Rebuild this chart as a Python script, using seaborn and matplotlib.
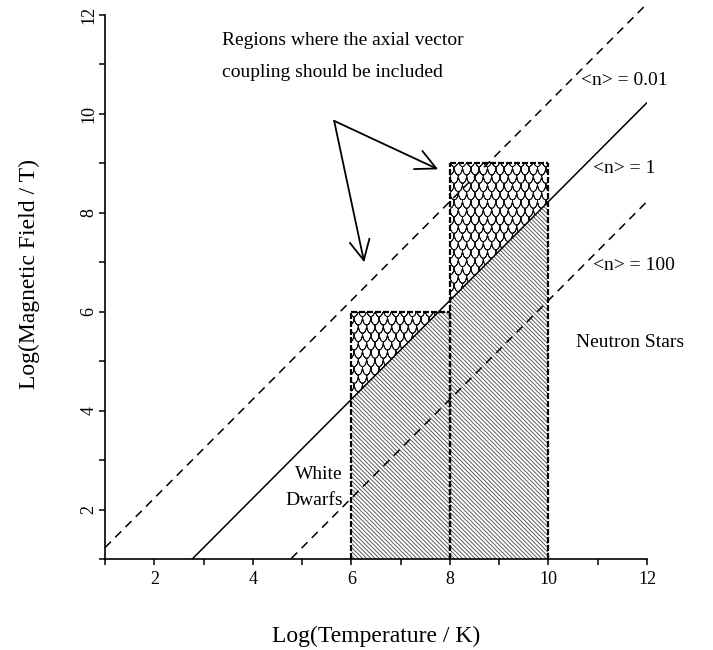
import numpy as np
import pandas as pd
import seaborn as sns
import matplotlib
matplotlib.use("Agg")
import matplotlib.pyplot as plt
import matplotlib.hatch as mhatch
from matplotlib.path import Path

# <n> lines: log B = log T + offset
n_labels = ["<n> = 0.01", "<n> = 1", "<n> = 100"]
n_offsets = [0.23, -1.77, -3.77]
line_x = [1, 12]

# stellar boxes (log T range, top in log B)
box_names = ["White Dwarfs", "Neutron Stars"]
box_t_lo = [6, 8]
box_t_hi = [8, 10]
box_b_top = [6, 9]


# fish-scale hatch, takes the place of the 'O' pattern
class ScaleHatch(mhatch.Shapes):
    size = 1.0
    filled = True

    def __init__(self, hatch, density):
        self.num_rows = hatch.count('O') * density
        arc = Path.arc(180, 360)
        v = arc.vertices * [0.5, 1.0]
        self.shape_vertices = np.concatenate([v, v[::-1]])
        self.shape_codes = np.concatenate([arc.codes, arc.codes])
        super().__init__(hatch, density)


mhatch._hatch_types = [h for h in mhatch._hatch_types if h is not mhatch.LargeCircles]
mhatch._hatch_types.append(ScaleHatch)

sns.set_theme(style="ticks")
plt.rcParams['font.family'] = ['Liberation Serif', 'DejaVu Serif']
plt.rcParams['text.color'] = 'black'
plt.rcParams['hatch.linewidth'] = 0.6

fig = plt.figure(figsize=(7.13, 6.5), dpi=100)
ax = fig.add_axes([0.1473, 0.14, 0.7602, 0.8597])

rows = []
for lab, off in zip(n_labels, n_offsets):
    for x in line_x:
        rows.append({'T': x, 'B': x + off, 'line': lab})
lines_df = pd.DataFrame(rows)

sns.lineplot(data=lines_df, x='T', y='B', style='line', color='black',
             dashes={n_labels[0]: (5.5, 4), n_labels[1]: "", n_labels[2]: (5.5, 4)},
             linewidth=1.1, legend=False, ax=ax)

solid_off = n_offsets[1]
box_dash = (0, (2.7, 0.9))
for lo, hi, top in zip(box_t_lo, box_t_hi, box_b_top):
    xs = np.linspace(lo, hi, 300)
    cut = np.minimum(xs + solid_off, top)
    # below the <n> = 1 line
    ax.fill(np.r_[xs, xs[::-1]], np.r_[np.ones_like(xs), cut[::-1]],
            facecolor='none', edgecolor='#444444', linewidth=0, hatch='\\' * 8)
    # above it
    ax.fill(np.r_[xs, xs[::-1]], np.r_[cut, np.full_like(xs, top)[::-1]],
            facecolor='none', edgecolor='#111111', linewidth=0, hatch='OO')
    for ex in (lo, hi):
        ax.plot([ex, ex], [1, top], color='black', linewidth=1.6, linestyle=box_dash)
    ax.plot([lo, hi], [top, top], color='black', linewidth=1.6, linestyle=box_dash)

ax.set_xlim(1, 12)
ax.set_ylim(1, 12.3)
sns.despine(ax=ax)
ax.spines['left'].set_bounds(1, 12)
for side in ('left', 'bottom'):
    ax.spines[side].set_linewidth(1.2)
    ax.spines[side].set_color('black')

ticks = list(range(1, 13))
tick_labels = [str(t) if t % 2 == 0 else '' for t in ticks]
ax.set_xticks(ticks)
ax.set_xticklabels(tick_labels)
ax.set_yticks(ticks)
ax.set_yticklabels(tick_labels, rotation=90, va='center')
ax.tick_params(axis='both', direction='out', length=4.5, width=1.1, color='black',
               labelsize=13, labelcolor='black')
ax.tick_params(axis='x', pad=4.5)
ax.tick_params(axis='y', pad=1)

ax.set_xlabel("Log(Temperature / K)", fontsize=17, color='black')
ax.set_ylabel("Log(Magnetic Field / T)", fontsize=17, color='black')
ax.xaxis.label.set_va('center')
ax.yaxis.label.set_va('center')
ax.xaxis.set_label_coords(0.5, -0.138)
ax.yaxis.set_label_coords(-0.14, 0.51)

ax.text(3.38, 11.48, "Regions where the axial vector", fontsize=14, ha='left', va='center')
ax.text(3.38, 10.83, "coupling should be included", fontsize=14, ha='left', va='center')

label_pos = [(10.65, 10.67), (10.9, 8.9), (10.9, 6.93)]
for lab, (tx, ty) in zip(n_labels, label_pos):
    ax.text(tx, ty, lab, fontsize=14, ha='left', va='center')

ax.text(10.55, 5.37, "Neutron Stars", fontsize=14, ha='left', va='center')
ax.text(5.83, 2.44, "White\nDwarfs", fontsize=14, ha='right', va='center',
        linespacing=1.7)

arrow_start = (5.65, 9.86)
arrow_heads = [(7.76, 8.88), (6.26, 7.0)]
for hx, hy in arrow_heads:
    ax.annotate("", xy=(hx, hy), xytext=arrow_start,
                arrowprops=dict(arrowstyle='->,head_length=1.2,head_width=0.6',
                                color='black', lw=1.3, shrinkA=0, shrinkB=0))

plt.savefig("out.png", dpi=100)
